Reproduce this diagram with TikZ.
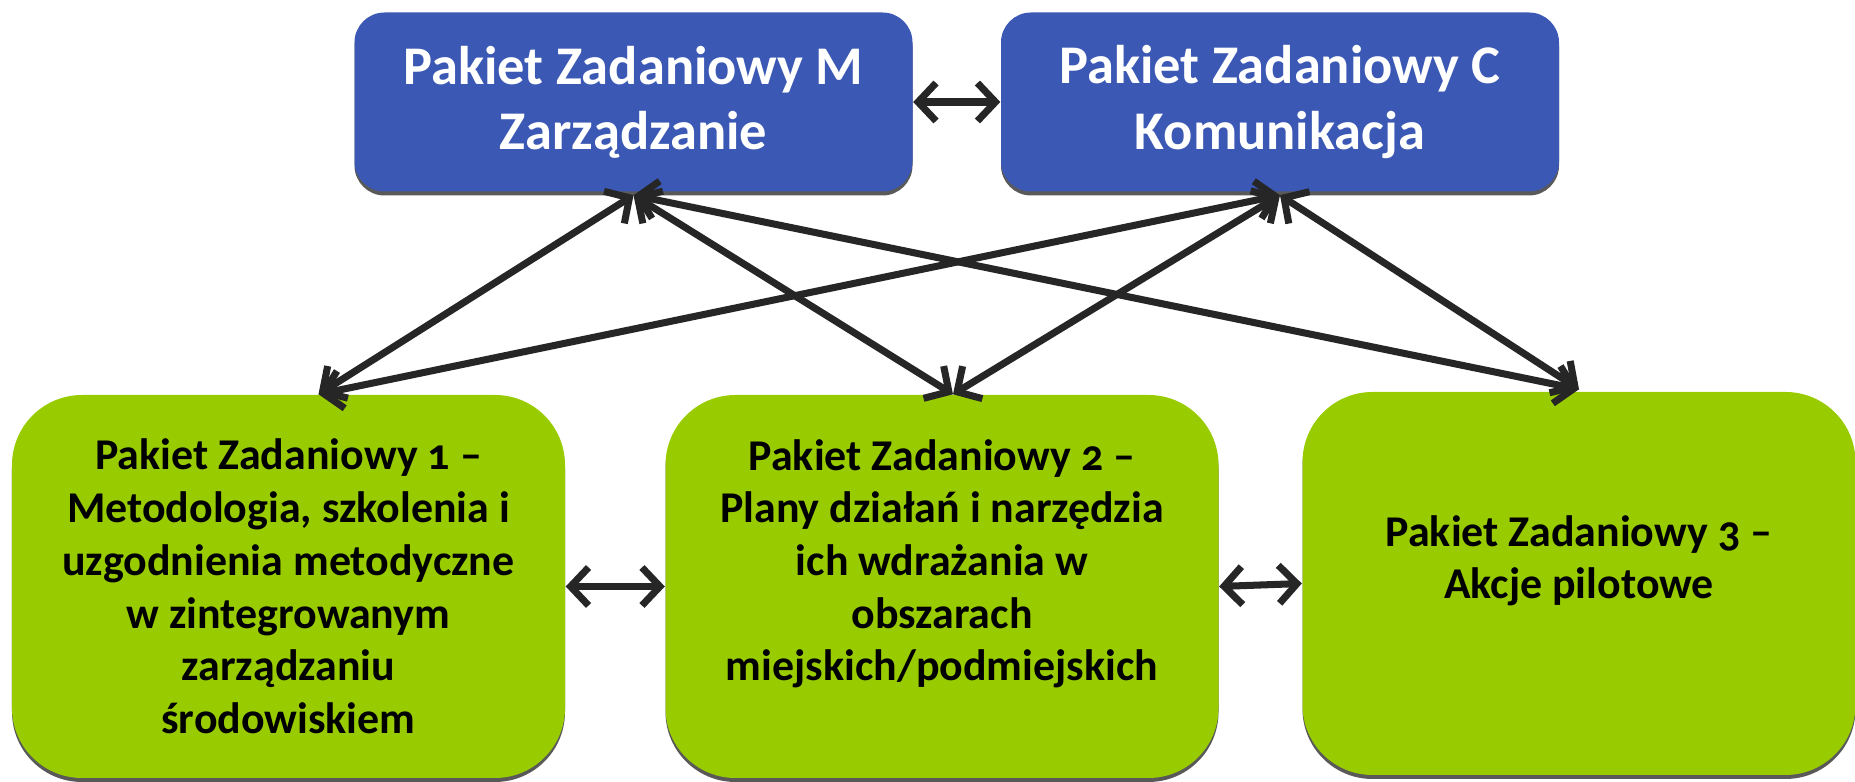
\documentclass[tikz,border=0pt]{standalone}
\usepackage{fontspec}
\setmainfont{Carlito}[Numbers=OldStyle]
\usepackage{xcolor}
\usepackage{tikz}
\usetikzlibrary{arrows.meta,shadows}

\definecolor{pblue}{RGB}{59,88,180}
\definecolor{pgreen}{RGB}{153,204,0}
\definecolor{arrowgray}{RGB}{38,38,38}

\begin{document}
\begin{tikzpicture}[
    topbox/.style={fill=pblue, rounded corners=0.3cm, minimum width=5.58cm, minimum height=1.79cm,
      text=white, align=center, font=\fontsize{15.5}{18.5}\selectfont\bfseries,
      drop shadow={shadow xshift=0pt, shadow yshift=-0.04cm, fill=black!65, opacity=1}},
    pkgbox/.style={fill=pgreen, rounded corners=0.7cm, minimum width=5.53cm, minimum height=3.83cm,
      text=black, align=center, font=\fontsize{12.5}{15}\selectfont\bfseries,
      drop shadow={shadow xshift=0pt, shadow yshift=-0.04cm, fill=black!65, opacity=1}},
    link/.style={{Straight Barb[length=1.8mm,width=3.8mm]}-{Straight Barb[length=1.8mm,width=3.8mm]},
      line width=2pt, draw=arrowgray, line cap=round, line join=round}]
      \useasboundingbox (0,0) rectangle (18.55,7.82);

      \node[topbox] (pm) at (6.335,6.80) {Pakiet Zadaniowy M\\Zarządzanie};
      \node[topbox] (pc) at (12.80,6.80) {Pakiet Zadaniowy C\\Komunikacja};

      \node[pkgbox] (p1) at (2.885,1.955) {Pakiet Zadaniowy 1 --\\Metodologia, szkolenia i\\uzgodnienia metodyczne\\w zintegrowanym\\zarządzaniu\\środowiskiem};
      \node[pkgbox] (p2) at (9.42,1.955) {Pakiet Zadaniowy 2 --\\Plany działań i narzędzia\\ich wdrażania w\\obszarach\\miejskich/podmiejskich\\\mbox{}};
      \node[pkgbox] (p3) at (15.79,1.985) {Pakiet Zadaniowy 3 --\\Akcje pilotowe\\\mbox{}};

      \draw[link] (pm.east) -- (pc.west);
      \draw[link] (p1.east) -- (p2.west);
      \draw[link] (p2.east) -- (p3.west);

      \foreach \from in {pm,pc}{
        \draw[link] ([yshift=-0.03cm]\from.south) -- ([xshift=0.3cm]p1.north);
        \draw[link] ([yshift=-0.03cm]\from.south) -- ([xshift=0.11cm]p2.north);
        \draw[link] ([yshift=-0.03cm]\from.south) -- ([yshift=0.02cm]p3.north);
      }
    \end{tikzpicture}
\end{document}
